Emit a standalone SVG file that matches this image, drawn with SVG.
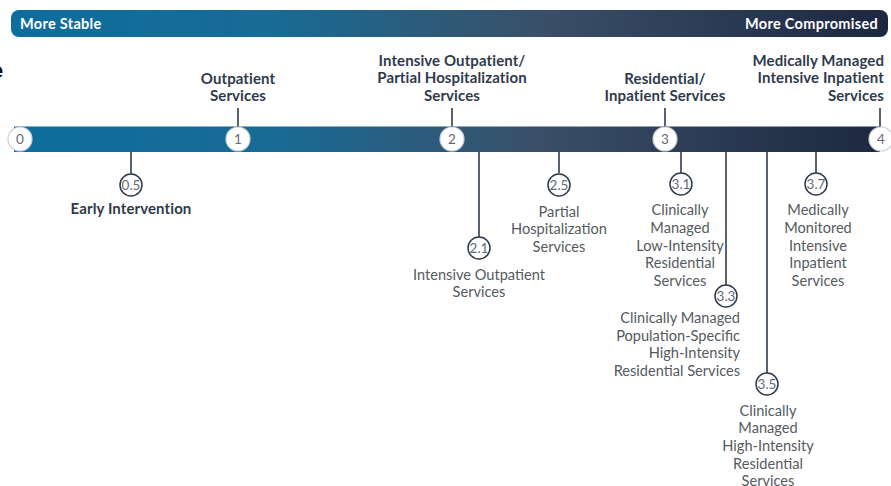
<svg xmlns="http://www.w3.org/2000/svg" width="891" height="486" viewBox="0 0 891 486">
  <defs>
    <linearGradient id="barGrad" x1="0" y1="0" x2="1" y2="0">
      <stop offset="0" stop-color="#0e6d9d"/>
      <stop offset="0.3" stop-color="#186b95"/>
      <stop offset="0.6" stop-color="#3a5068"/>
      <stop offset="1" stop-color="#1d2740"/>
    </linearGradient>
    <style>
      .bar-label { font-family: Lato, "Liberation Sans", sans-serif; font-weight: 700; font-size: 14.5px; letter-spacing: 0.3px; fill: #ffffff; }
      .head { font-family: Lato, "Liberation Sans", sans-serif; font-weight: 700; font-size: 15px; letter-spacing: 0.1px; fill: #2f3b4b; text-anchor: middle; }
      .sub { font-family: Lato, "Liberation Sans", sans-serif; font-weight: 400; font-size: 14.6px; fill: #555a60; text-anchor: middle; }
      .end { text-anchor: end; }
      .main-dot { fill: #ffffff; stroke: #c9d2da; stroke-width: 1.2; }
      .sub-dot { fill: #ffffff; stroke: #2f3b4b; stroke-width: 1.5; }
      .num { font-family: Lato, "Liberation Sans", sans-serif; font-weight: 400; font-size: 13.5px; fill: #666a70; text-anchor: middle; }
      .link { stroke: #2f3b4b; stroke-width: 1.6; fill: none; }
    </style>
  </defs>

  <!-- stray heading fragment at the left edge -->
  <text x="-9" y="78" font-family="'Liberation Sans', sans-serif" font-weight="700" font-size="22" fill="#111111">e</text>

  <!-- severity scale banner -->
  <g id="scale-banner">
    <rect x="11" y="10" width="877" height="27" rx="8" fill="url(#barGrad)"/>
    <text class="bar-label" x="20" y="28.5">More Stable</text>
    <text class="bar-label end" x="878" y="28.5">More Compromised</text>
  </g>

  <!-- continuum bar -->
  <g id="continuum">
    <rect x="14" y="126" width="866" height="26" fill="url(#barGrad)"/>
    <line x1="14" y1="126.5" x2="880" y2="126.5" stroke="#d8e0e8" stroke-width="1" opacity="0.6"/>
  </g>

  <!-- connectors -->
  <g id="connectors">
    <line class="link" x1="238" y1="108" x2="238" y2="127"/>
    <line class="link" x1="452" y1="108" x2="452" y2="127"/>
    <line class="link" x1="665" y1="108" x2="665" y2="127"/>
    <line class="link" x1="880" y1="108" x2="880" y2="127"/>
    <line class="link" x1="131" y1="152" x2="131" y2="174"/>
    <line class="link" x1="479" y1="152" x2="479" y2="237"/>
    <line class="link" x1="559" y1="152" x2="559" y2="173"/>
    <line class="link" x1="681" y1="152" x2="681" y2="173"/>
    <line class="link" x1="726" y1="152" x2="726" y2="285"/>
    <line class="link" x1="767" y1="152" x2="767" y2="373"/>
    <line class="link" x1="816" y1="152" x2="816" y2="173"/>
  </g>

  <!-- level 0 -->
  <g id="level-0">
    <circle class="main-dot" cx="20" cy="139" r="12"/>
    <text class="num" x="20" y="144">0</text>
  </g>

  <!-- level 1 -->
  <g id="level-1">
    <circle class="main-dot" cx="238" cy="139" r="12"/>
    <text class="num" x="238" y="144">1</text>
    <text class="head" x="238" y="84">Outpatient</text>
    <text class="head" x="238" y="101">Services</text>
  </g>

  <!-- level 2 -->
  <g id="level-2">
    <circle class="main-dot" cx="452" cy="139" r="12"/>
    <text class="num" x="452" y="144">2</text>
    <text class="head" x="452" y="66">Intensive Outpatient/</text>
    <text class="head" x="452" y="83">Partial Hospitalization</text>
    <text class="head" x="452" y="101">Services</text>
  </g>

  <!-- level 3 -->
  <g id="level-3">
    <circle class="main-dot" cx="665" cy="139" r="12"/>
    <text class="num" x="665" y="144">3</text>
    <text class="head" x="665" y="84">Residential/</text>
    <text class="head" x="665" y="101">Inpatient Services</text>
  </g>

  <!-- level 4 -->
  <g id="level-4">
    <circle class="main-dot" cx="881" cy="139" r="12"/>
    <text class="num" x="881" y="144">4</text>
    <text class="head end" x="884" y="66">Medically Managed</text>
    <text class="head end" x="884" y="83">Intensive Inpatient</text>
    <text class="head end" x="884" y="101">Services</text>
  </g>

  <!-- level 0.5 -->
  <g id="level-0-5">
    <circle class="sub-dot" cx="131" cy="185" r="11"/>
    <text class="num" x="131" y="190">0.5</text>
    <text class="head" x="131" y="214">Early Intervention</text>
  </g>

  <!-- level 2.1 -->
  <g id="level-2-1">
    <circle class="sub-dot" cx="479" cy="248" r="11"/>
    <text class="num" x="479" y="253">2.1</text>
    <text class="sub" x="479" y="280">Intensive Outpatient</text>
    <text class="sub" x="479" y="297">Services</text>
  </g>

  <!-- level 2.5 -->
  <g id="level-2-5">
    <circle class="sub-dot" cx="559" cy="185" r="11"/>
    <text class="num" x="559" y="190">2.5</text>
    <text class="sub" x="559" y="217">Partial</text>
    <text class="sub" x="559" y="234">Hospitalization</text>
    <text class="sub" x="559" y="252">Services</text>
  </g>

  <!-- level 3.1 -->
  <g id="level-3-1">
    <circle class="sub-dot" cx="681" cy="184" r="11"/>
    <text class="num" x="681" y="189">3.1</text>
    <text class="sub" x="680" y="215">Clinically</text>
    <text class="sub" x="680" y="233">Managed</text>
    <text class="sub" x="680" y="251">Low-Intensity</text>
    <text class="sub" x="680" y="268">Residential</text>
    <text class="sub" x="680" y="286">Services</text>
  </g>

  <!-- level 3.3 -->
  <g id="level-3-3">
    <circle class="sub-dot" cx="726" cy="296" r="11"/>
    <text class="num" x="726" y="301">3.3</text>
    <text class="sub end" x="740" y="323">Clinically Managed</text>
    <text class="sub end" x="740" y="341">Population-Specific</text>
    <text class="sub end" x="740" y="358">High-Intensity</text>
    <text class="sub end" x="740" y="376">Residential Services</text>
  </g>

  <!-- level 3.5 -->
  <g id="level-3-5">
    <circle class="sub-dot" cx="767" cy="384" r="11"/>
    <text class="num" x="767" y="389">3.5</text>
    <text class="sub" x="768" y="416">Clinically</text>
    <text class="sub" x="768" y="433">Managed</text>
    <text class="sub" x="768" y="451">High-Intensity</text>
    <text class="sub" x="768" y="469">Residential</text>
    <text class="sub" x="768" y="486">Services</text>
  </g>

  <!-- level 3.7 -->
  <g id="level-3-7">
    <circle class="sub-dot" cx="816" cy="184" r="11"/>
    <text class="num" x="816" y="189">3.7</text>
    <text class="sub" x="818" y="215">Medically</text>
    <text class="sub" x="818" y="233">Monitored</text>
    <text class="sub" x="818" y="251">Intensive</text>
    <text class="sub" x="818" y="268">Inpatient</text>
    <text class="sub" x="818" y="286">Services</text>
  </g>
</svg>
